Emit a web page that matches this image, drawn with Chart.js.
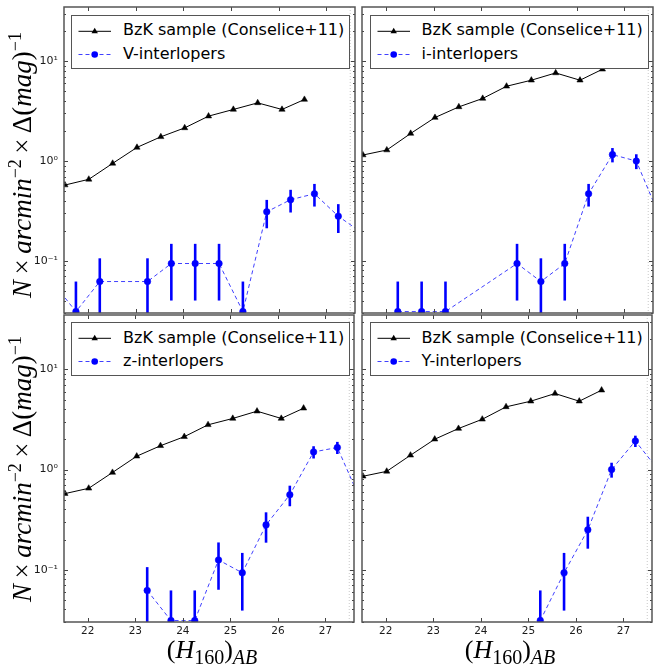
<!DOCTYPE html>
<html>
<head>
<meta charset="utf-8">
<script src="https://cdn.jsdelivr.net/npm/chart.js@4.4.1/dist/chart.umd.min.js"></script>
<style>
  html, body { margin:0; padding:0; background:#fff; }
  #wrap { position:relative; width:657px; height:667px; overflow:hidden; background:#fff; }
  canvas { position:absolute; }
  .legend { position:absolute; border:1.3px solid #555; background:#fff; box-sizing:border-box; }
  .legend svg { position:absolute; left:0; top:0; }
  .legend span { position:absolute; font-family:"DejaVu Sans", sans-serif; font-size:16px; line-height:18px; color:#000; white-space:nowrap; }
  .ylab { position:absolute; white-space:nowrap; font-family:"Liberation Serif", serif; font-size:27px; line-height:30px; color:#000;
          transform:translate(-50%,-50%) rotate(-90deg); }
  .xlab { position:absolute; white-space:nowrap; font-family:"Liberation Serif", serif; font-size:26px; line-height:30px; color:#000;
          transform:translate(-50%,-50%); }
  .ylab sup { font-size:18px; line-height:0; }
  .xlab sub { font-size:20px; line-height:0; }
  .ylab i, .xlab i { font-style:italic; }
</style>
</head>
<body>
<div id="wrap"></div>
<script>
// ---------------- data ----------------
const xTicks = [22, 23, 24, 25, 26, 27];
const xTickLabels = ["22", "23", "24", "25", "26", "27"];
const yMajor = [0.1, 1, 10];
const yTickLabels = ["10\u207B\u00B9", "10\u2070", "10\u00B9"];

const bzkLabel = "BzK sample (Conselice+11)";
const bzkMag = [21.52, 22.02, 22.52, 23.03, 23.53, 24.03, 24.53, 25.05, 25.56, 26.07, 26.54];
const bzkV = [0.575, 0.656, 0.948, 1.37, 1.75, 2.15, 2.82, 3.29, 3.83, 3.29, 4.14];
const bzkI = [1.15, 1.29, 1.89, 2.73, 3.49, 4.24, 5.62, 6.46, 7.64, 6.46, 8.32];
const bzkZ = [0.575, 0.650, 0.935, 1.36, 1.73, 2.13, 2.80, 3.24, 3.83, 3.24, 4.10];
const bzkY = [0.857, 0.96, 1.39, 2.01, 2.57, 3.18, 4.23, 4.82, 5.75, 4.82, 6.21];

const vMag = [21.25, 21.75, 22.25, 23.25, 23.75, 24.25, 24.75, 25.25, 25.75, 26.25, 26.75, 27.25, 27.75];
const vVal = [0.062, 0.031, 0.062, 0.062, 0.094, 0.094, 0.094, 0.031, 0.31, 0.41, 0.47, 0.28, 0.19];
const vErr = [0.044, 0.031, 0.044, 0.044, 0.054, 0.054, 0.054, 0.031, 0.098, 0.105, 0.12, 0.09, 0.077];

const iMag = [22.25, 22.75, 23.25, 24.75, 25.25, 25.75, 26.25, 26.75, 27.25, 27.75];
const iVal = [0.031, 0.031, 0.031, 0.094, 0.062, 0.094, 0.47, 1.16, 1.0, 0.27];
const iErr = [0.031, 0.031, 0.031, 0.054, 0.044, 0.054, 0.12, 0.19, 0.17, 0.09];

const zMag = [23.25, 23.75, 24.25, 24.75, 25.25, 25.75, 26.25, 26.75, 27.25, 27.75];
const zVal = [0.062, 0.031, 0.031, 0.125, 0.093, 0.28, 0.56, 1.5, 1.66, 0.48];
const zErr = [0.044, 0.031, 0.031, 0.062, 0.054, 0.094, 0.13, 0.21, 0.23, 0.12];

const yMag = [25.25, 25.75, 26.25, 26.75, 27.25, 27.75];
const yVal = [0.031, 0.093, 0.25, 1.0, 1.93, 0.97];
const yErr = [0.031, 0.054, 0.088, 0.17, 0.25, 0.17];

const X_MIN = 21.5, X_MAX = 27.6, Y_MIN = 0.03, Y_MAX = 35;
const BLUE = '#0000ff';
const BLUE_LINE = 'rgba(0,0,255,0.75)';

// ---------------- plugin: error bars, frame, inward ticks ----------------
const framePlugin = {
  id: 'mplFrame',
  beforeDatasetsDraw(chart) {
    const {ctx, chartArea: a, scales: {x, y}} = chart;
    ctx.save();
    ctx.beginPath(); ctx.rect(a.left, a.top, a.right - a.left, a.bottom - a.top); ctx.clip();
    const xd = x.getPixelForValue(27.5);
    ctx.strokeStyle = '#c8c8c8'; ctx.lineWidth = 1; ctx.setLineDash([1, 2]);
    ctx.beginPath(); ctx.moveTo(xd, a.top); ctx.lineTo(xd, a.bottom); ctx.stroke();
    ctx.setLineDash([]);
    chart.data.datasets.forEach(ds => {
      if (!ds.errors) return;
      ctx.strokeStyle = BLUE; ctx.lineWidth = 2.6;
      ds.data.forEach((p, i) => {
        const e = ds.errors[i];
        const px = x.getPixelForValue(p.x);
        const hi = y.getPixelForValue(p.y + e);
        const loV = p.y - e;
        const lo = loV > 0 ? y.getPixelForValue(loV) : a.bottom + 10;
        ctx.beginPath(); ctx.moveTo(px, hi); ctx.lineTo(px, Math.min(lo, a.bottom + 10)); ctx.stroke();
      });
    });
    ctx.restore();
  },
  afterDatasetsDraw(chart) {
    const {ctx, chartArea: a, scales: {x, y}} = chart;
    ctx.save();
    ctx.strokeStyle = '#444'; ctx.lineWidth = 1;
    const tick = (x1, y1, x2, y2) => { ctx.beginPath(); ctx.moveTo(x1, y1); ctx.lineTo(x2, y2); ctx.stroke(); };
    xTicks.forEach(v => {
      const px = Math.round(x.getPixelForValue(v)) + 0.5;
      tick(px, a.bottom, px, a.bottom - 4);
      tick(px, a.top, px, a.top + 4);
    });
    for (let d = -2; d <= 1; d++) {
      for (let k = 1; k <= 9; k++) {
        const v = k * Math.pow(10, d);
        if (v < Y_MIN || v > Y_MAX) continue;
        const py = Math.round(y.getPixelForValue(v)) + 0.5;
        const len = k === 1 ? 4 : 2;
        tick(a.left, py, a.left + len, py);
        tick(a.right, py, a.right - len, py);
      }
    }
    ctx.strokeStyle = '#555'; ctx.lineWidth = 1.5;
    ctx.strokeRect(a.left, a.top, a.right - a.left, a.bottom - a.top);
    ctx.restore();
  }
};

// ---------------- panels ----------------
const wrap = document.getElementById('wrap');

function pts(xs, ys) { return xs.map((v, i) => ({x: v, y: ys[i]})); }
function noPad(s) { s.paddingTop = 0; s.paddingBottom = 0; s.paddingLeft = 0; s.paddingRight = 0; }

function makePanel(cfg) {
  const box = cfg.box;
  const cv = document.createElement('canvas');
  let w = box.R - box.L + 80, h = box.B - box.T + 60;
  cv.width = w; cv.height = h;
  cv.style.width = w + 'px'; cv.style.height = h + 'px';
  wrap.appendChild(cv);
  const chart = new Chart(cv.getContext('2d'), {
    type: 'line',
    data: {
      datasets: [
        { label: bzkLabel, data: pts(bzkMag, cfg.bzk), borderColor: '#000', backgroundColor: '#000',
          borderWidth: 1, pointStyle: 'triangle', pointRadius: 3.6, pointBorderWidth: 0.5,
          pointBackgroundColor: '#000', pointBorderColor: '#000', tension: 0, fill: false },
        { label: cfg.label, data: pts(cfg.mag, cfg.val), errors: cfg.err, borderColor: BLUE_LINE, backgroundColor: BLUE,
          borderWidth: 1, borderDash: [4, 3], pointStyle: 'circle', pointRadius: 3.3, pointBorderWidth: 0.5,
          pointBackgroundColor: BLUE, pointBorderColor: BLUE, tension: 0, fill: false }
      ]
    },
    options: {
      responsive: false, animation: false, devicePixelRatio: 1,
      layout: { padding: { top: 10, right: 10, bottom: 0, left: 0 } },
      plugins: { legend: { display: false }, tooltip: { enabled: false }, title: { display: false } },
      scales: {
        x: {
          type: 'linear', min: X_MIN, max: X_MAX,
          grid: { display: false, drawTicks: false }, border: { display: false },
          ticks: { display: cfg.showX, font: { family: 'DejaVu Sans', size: 10.5 }, color: '#1a1a1a', padding: 3,
                   maxRotation: 0, autoSkip: false,
                   callback: (v, i) => xTickLabels[i] },
          afterBuildTicks: s => { s.ticks = xTicks.map(v => ({value: v})); },
          afterFit: s => { s.height = 40; noPad(s); }
        },
        y: {
          type: 'logarithmic', min: Y_MIN, max: Y_MAX,
          grid: { display: false, drawTicks: false }, border: { display: false },
          ticks: { display: cfg.showY, font: { family: 'DejaVu Sans', size: 11 }, color: '#1a1a1a', padding: 6,
                   autoSkip: false, callback: (v, i) => yTickLabels[i] },
          afterBuildTicks: s => { s.ticks = yMajor.map(v => ({value: v})); },
          afterFit: s => { s.width = 64; noPad(s); }
        }
      }
    },
    plugins: [framePlugin]
  });
  for (let it = 0; it < 3; it++) {
    const a = chart.chartArea;
    const dl = a.left, dt = a.top, dr = w - a.right, db = h - a.bottom;
    const nw = Math.round((box.R - box.L) + dl + dr), nh = Math.round((box.B - box.T) + dt + db);
    if (nw !== w || nh !== h) { w = nw; h = nh; chart.resize(w, h); }
    const a2 = chart.chartArea;
    cv.style.left = (box.L - a2.left) + 'px';
    cv.style.top = (box.T - a2.top) + 'px';
  }
  const lg = document.createElement('div');
  lg.className = 'legend';
  lg.style.left = (box.L + 7.5) + 'px'; lg.style.top = (box.T + 7.2) + 'px';
  lg.style.width = '279px'; lg.style.height = '54px';
  lg.innerHTML =
    '<svg width="279" height="54">' +
      '<line x1="6.5" y1="15.3" x2="39" y2="15.3" stroke="#000" stroke-width="1"/>' +
      '<polygon points="22.7,11.8 25.9,17.3 19.5,17.3" fill="#000"/>' +
      '<line x1="6.5" y1="38.5" x2="39" y2="38.5" stroke="' + BLUE_LINE + '" stroke-width="1" stroke-dasharray="4 3"/>' +
      '<circle cx="22.7" cy="38.5" r="3.3" fill="' + BLUE + '"/>' +
    '</svg>' +
    '<span style="left:51px; top:5.9px">' + bzkLabel + '</span>' +
    '<span style="left:51px; top:29.1px">' + cfg.label + '</span>';
  wrap.appendChild(lg);
  return chart;
}

const colL = { L: 63.5, R: 359 }, colR = { L: 362, R: 657 };
const rowT = { T: 7.3, B: 313 }, rowB = { T: 315, B: 622 };
function box(c, r) { return { L: c.L, R: c.R, T: r.T, B: r.B }; }

makePanel({ box: box(colL, rowT), showX: false, showY: true,  bzk: bzkV, label: 'V-interlopers', mag: vMag, val: vVal, err: vErr });
makePanel({ box: box(colR, rowT), showX: false, showY: false, bzk: bzkI, label: 'i-interlopers', mag: iMag, val: iVal, err: iErr });
makePanel({ box: box(colL, rowB), showX: true,  showY: true,  bzk: bzkZ, label: 'z-interlopers', mag: zMag, val: zVal, err: zErr });
makePanel({ box: box(colR, rowB), showX: true,  showY: false, bzk: bzkY, label: 'Y-interlopers', mag: yMag, val: yVal, err: yErr });

// axis titles
const yTitle = '<i>N</i>\u2009\u00D7\u2009<i>arcmin</i><sup>\u22122</sup>\u2009\u00D7\u2009\u0394(<i>mag</i>)<sup>\u22121</sup>';
[165, 469].forEach(cy => {
  const d = document.createElement('div');
  d.className = 'ylab'; d.innerHTML = yTitle;
  d.style.left = '22px'; d.style.top = cy + 'px';
  wrap.appendChild(d);
});
const xTitle = '(<i>H</i><sub>160</sub>)<sub><i>AB</i></sub>';
[212, 510].forEach(cx => {
  const d = document.createElement('div');
  d.className = 'xlab'; d.innerHTML = xTitle;
  d.style.left = cx + 'px'; d.style.top = '650px';
  wrap.appendChild(d);
});
</script>
</body>
</html>
